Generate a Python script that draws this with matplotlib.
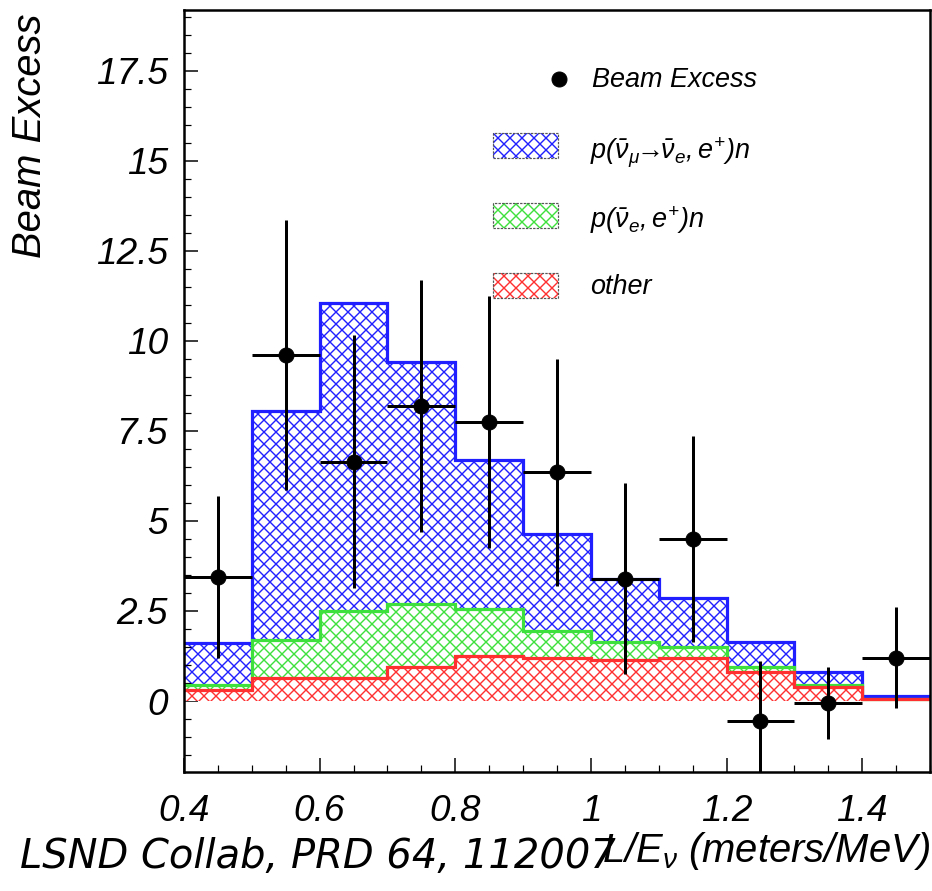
import numpy as np
import matplotlib
matplotlib.use("Agg")
import matplotlib.pyplot as plt
from matplotlib.patches import Rectangle

# ---------------- data ----------------
bin_edges = [0.4, 0.5, 0.6, 0.7, 0.8, 0.9, 1.0, 1.1, 1.2, 1.3, 1.4, 1.5]
# stacked components (per bin)
other_bg = [0.30, 0.65, 0.65, 0.95, 1.25, 1.20, 1.15, 1.20, 0.80, 0.40, 0.05]
nue_bg = [0.15, 1.05, 1.85, 1.75, 1.30, 0.75, 0.50, 0.30, 0.15, 0.05, 0.00]
osc_signal = [1.15, 6.35, 8.55, 6.70, 4.15, 2.70, 1.75, 1.35, 0.70, 0.35, 0.10]

# beam excess data points
point_x = [0.45, 0.55, 0.65, 0.75, 0.85, 0.95, 1.05, 1.15, 1.25, 1.35, 1.45]
point_y = [3.45, 9.60, 6.65, 8.20, 7.75, 6.35, 3.40, 4.50, -0.55, -0.05, 1.20]
point_yerr = [2.25, 3.75, 3.50, 3.50, 3.50, 3.15, 2.65, 2.85, 1.65, 1.00, 1.40]

xticks = [0.4, 0.6, 0.8, 1.0, 1.2, 1.4]
xtick_labels = ["0.4", "0.6", "0.8", "1", "1.2", "1.4"]
yticks = [0, 2.5, 5, 7.5, 10, 12.5, 15, 17.5]
ytick_labels = ["0", "2.5", "5", "7.5", "10", "12.5", "15", "17.5"]

legend_labels = ["Beam Excess",
                 r"$p(\bar{\nu}_{\mu}\!\!\rightarrow\!\!\bar{\nu}_{e},e^{+})n$",
                 r"$p(\bar{\nu}_{e},e^{+})n$",
                 "other"]

# ---------------- style ----------------
BLUE = "#1f1fff"
GREEN = "#3ee03e"
RED = "#ff3030"

plt.rcParams["font.family"] = ["Liberation Sans", "DejaVu Sans"]
plt.rcParams["font.style"] = "italic"
plt.rcParams["mathtext.fontset"] = "custom"
plt.rcParams["mathtext.it"] = "Liberation Sans:italic"
plt.rcParams["mathtext.rm"] = "Liberation Sans:italic"
plt.rcParams["mathtext.sf"] = "Liberation Sans:italic"
plt.rcParams["hatch.linewidth"] = 1.4

W, H = 932, 891
fig = plt.figure(figsize=(W / 72, H / 72), dpi=72)
L, R, T, B = 184, 930, 9.5, 772
ax = fig.add_axes([L / W, 1 - B / H, (R - L) / W, (B - T) / H])

edges = np.array(bin_edges)
red_top = np.array(other_bg)
green_top = red_top + np.array(nue_bg)
blue_top = green_top + np.array(osc_signal)

HATCH = "xx"
# filled hatched regions (drawn back to front)
for top, col, z in [(blue_top, BLUE, 1), (green_top, GREEN, 2), (red_top, RED, 3)]:
    ax.stairs(top, edges, baseline=0, fill=True, facecolor="white",
              edgecolor=col, hatch=HATCH, linewidth=0, zorder=z)
# outlines
for top, col, z in [(blue_top, BLUE, 1.5), (green_top, GREEN, 2.5), (red_top, RED, 3.5)]:
    ax.stairs(top, edges, baseline=None, color=col, linewidth=3.2, zorder=z)

# data points
half_w = np.diff(edges) / 2
ax.errorbar(point_x, point_y, xerr=half_w, yerr=point_yerr, fmt="o",
            color="black", ms=15, elinewidth=3, capsize=0, zorder=6,
            clip_on=True)

ax.set_xlim(0.4, 1.5)
ax.set_ylim(-1.97, 19.2)

ax.set_xticks(xticks)
ax.set_xticklabels(xtick_labels)
ax.set_yticks(yticks)
ax.set_yticklabels(ytick_labels)
ax.set_xticks(np.arange(0.4, 1.5001, 0.05), minor=True)
ax.set_yticks(np.arange(-1.5, 19.01, 0.5), minor=True)

ax.tick_params(axis="both", which="both", direction="in", top=False, right=False,
               color="black")
ax.tick_params(axis="both", which="major", length=14, width=1.5, labelsize=37)
ax.tick_params(axis="both", which="minor", length=7, width=1.2)
ax.tick_params(axis="x", which="major", pad=22)
ax.tick_params(axis="y", which="major", pad=16)

for sp in ax.spines.values():
    sp.set_linewidth(2.5)
    sp.set_zorder(10)

# axis labels
fig.text(930 / W, 1 - 862 / H, r"$L/E_{\nu}$ (meters/MeV)", ha="right",
         va="baseline", fontsize=40)
fig.text(30 / W, 1 - 14 / H, "Beam Excess", rotation=90, ha="center",
         va="top", fontsize=40)

# citation
fig.text(20 / W, 1 - 868 / H, "LSND Collab, PRD 64, 112007",
         family=["DejaVu Sans"], style="oblique", fontsize=40,
         ha="left", va="baseline", zorder=20)

# ---------------- legend (manual, axes fraction) ----------------
def fx(px):
    return (px - L) / (R - L)

def fy(py):
    return (B - py) / (B - T)

ax.plot([fx(559)], [fy(79)], "o", color="black", ms=15,
        transform=ax.transAxes, clip_on=False, zorder=8)
ax.text(fx(592), fy(87), legend_labels[0], transform=ax.transAxes,
        fontsize=27, va="baseline", ha="left")

boxes = [(158, 160, BLUE, legend_labels[1], 27),
         (228, 228, GREEN, legend_labels[2], 27),
         (298, 294, RED, legend_labels[3], 27)]
for bottom_px, base_px, col, lab, fs in boxes:
    ax.add_patch(Rectangle((fx(493), fy(bottom_px)), fx(558) - fx(493),
                           fy(bottom_px - 25) - fy(bottom_px),
                           transform=ax.transAxes, facecolor="white",
                           edgecolor=col, hatch=HATCH, linewidth=0, zorder=8))
    ax.add_patch(Rectangle((fx(493), fy(bottom_px)), fx(558) - fx(493),
                           fy(bottom_px - 25) - fy(bottom_px),
                           transform=ax.transAxes, facecolor="none",
                           edgecolor="#555555", linewidth=1.2,
                           linestyle=(0, (2, 1)), zorder=9))
    ax.text(fx(590), fy(base_px), lab, transform=ax.transAxes,
            fontsize=fs, va="baseline", ha="left")

fig.savefig("out.png", dpi=72, facecolor="white")
